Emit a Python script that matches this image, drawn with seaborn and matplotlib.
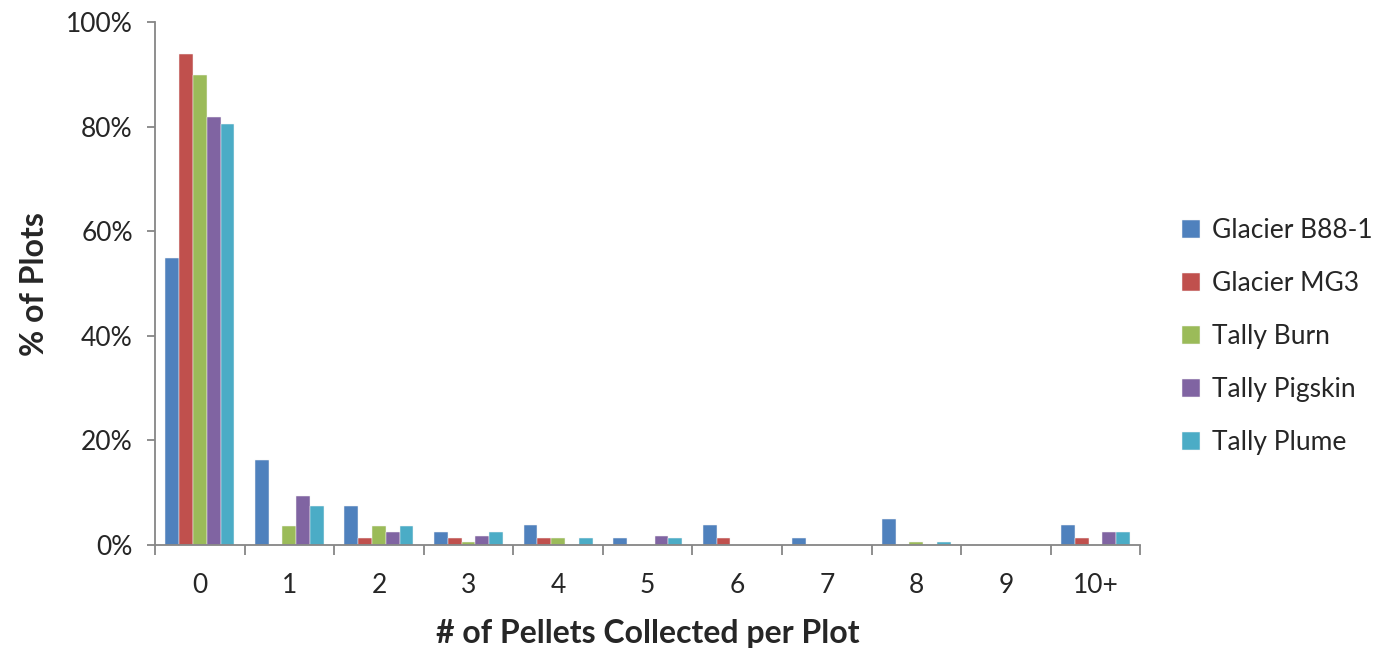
import matplotlib
matplotlib.use("Agg")
import matplotlib.pyplot as plt
import numpy as np
import pandas as pd
import seaborn as sns
from matplotlib.ticker import FixedLocator, PercentFormatter

# Share of plots (%) by number of pellets collected, per site
categories = ["0", "1", "2", "3", "4", "5", "6", "7", "8", "9", "10+"]
sites = ["Glacier B88-1", "Glacier MG3", "Tally Burn", "Tally Pigskin", "Tally Plume"]
glacier_b88 = [54.9, 16.2, 7.5, 2.5, 3.75, 1.25, 3.75, 1.25, 5.0, 0.0, 3.75]
glacier_mg3 = [93.9, 0.0, 1.25, 1.25, 1.25, 0.0, 1.25, 0.0, 0.0, 0.0, 1.25]
tally_burn = [90.0, 3.7, 3.7, 0.5, 1.25, 0.0, 0.0, 0.0, 0.5, 0.0, 0.0]
tally_pigskin = [81.8, 9.3, 2.4, 1.8, 0.0, 1.8, 0.0, 0.0, 0.0, 0.0, 2.4]
tally_plume = [80.6, 7.4, 3.7, 2.4, 1.25, 1.25, 0.0, 0.0, 0.5, 0.0, 2.4]
colors = ["#4F81BD", "#C0504D", "#9BBB59", "#8064A2", "#4BACC6"]

series = [glacier_b88, glacier_mg3, tally_burn, tally_pigskin, tally_plume]
df = pd.DataFrame(
    [(c, s, v) for s, vals in zip(sites, series) for c, v in zip(categories, vals)],
    columns=["pellets", "site", "pct"],
)

sns.set_style("white")
plt.rcParams["font.family"] = ["Lato", "DejaVu Sans"]

fig = plt.figure(figsize=(13.78, 6.54), dpi=100)
ax = fig.add_axes([0.1125, 0.1667, 0.8275 - 0.1125, 0.966 - 0.1667])

sns.barplot(
    data=df, x="pellets", y="pct", hue="site", order=categories, hue_order=sites,
    palette=colors, width=0.77, edgecolor="#F4F4F4", linewidth=0.35,
    saturation=1, ax=ax, legend=True,
)

ax.set_xlim(-0.5, len(categories) - 0.5)
ax.set_ylim(0, 100)
ax.yaxis.set_major_locator(FixedLocator([0, 20, 40, 60, 80, 100]))
ax.yaxis.set_major_formatter(PercentFormatter(decimals=0))

spine_col = "#868686"
for side in ["top", "right"]:
    ax.spines[side].set_visible(False)
for side in ["left", "bottom"]:
    ax.spines[side].set_color(spine_col)
    ax.spines[side].set_linewidth(1.3)

# category boundary ticks on the x axis, labels centred between them
ax.xaxis.set_minor_locator(FixedLocator(np.arange(-0.5, len(categories), 1.0)))
ax.tick_params(axis="x", which="major", length=0, pad=20, labelsize=19)
ax.tick_params(axis="x", which="minor", length=7, width=1.3, color=spine_col, direction="out", bottom=True)
ax.tick_params(axis="y", which="major", length=6, width=1.3, color=spine_col, direction="out", left=True, pad=10, labelsize=19)

ax.set_xlabel("# of Pellets Collected per Plot", fontsize=23, fontweight="bold", labelpad=15)
ax.set_ylabel("% of Plots", fontsize=23, fontweight="bold", labelpad=12)

handles, labels = ax.get_legend_handles_labels()
ax.legend(
    handles, labels, loc="center left", bbox_to_anchor=(1.018, 0.398), frameon=False,
    fontsize=19, handlelength=0.7, handleheight=0.7, handletextpad=0.45,
    labelspacing=1.06,
)

fig.savefig("out.png", dpi=100)
